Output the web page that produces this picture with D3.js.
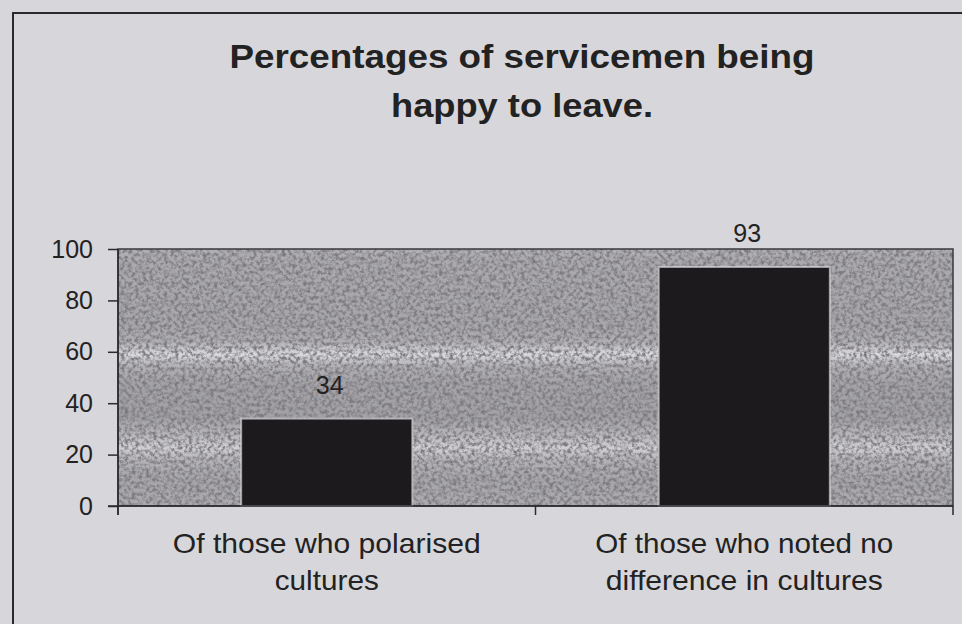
<!DOCTYPE html>
<html>
<head>
<meta charset="utf-8">
<script src="https://cdn.jsdelivr.net/npm/d3@7"></script>
<style>
  html, body { margin: 0; padding: 0; background: #d7d6db; }
  svg { display: block; }
  text { font-family: "Liberation Sans", Arial, sans-serif; fill: #222; }
</style>
</head>
<body>
<svg id="chart" width="962" height="624"></svg>
<script>
// ---- data ----
const titleLines = ["Percentages of servicemen being", "happy to leave."];
const categories = ["Of those who polarised cultures", "Of those who noted no difference in cultures"];
const categoryLines = [["Of those who polarised", "cultures"], ["Of those who noted no", "difference in cultures"]];
const values = [34, 93];
const yTicks = [0, 20, 40, 60, 80, 100];

// ---- layout ----
const W = 962, H = 624;
const plot = { left: 118, right: 953, top: 249, bottom: 506 };
const titleWidths = [585, 262];
const catWidths = [[308, 104], [298, 277]];

const svg = d3.select("#chart");
const defs = svg.append("defs");

// background texture gradient (light horizontal bands of the photographed plot area)
const grad = defs.append("linearGradient").attr("id", "bandGrad")
  .attr("x1", 0).attr("y1", 0).attr("x2", 0).attr("y2", 1);
[
  [0.00, "#b2b1b5"], [0.05, "#aaa9ad"], [0.30, "#a7a6aa"], [0.36, "#afaeb2"],
  [0.41, "#dadade"], [0.455, "#b2b1b5"], [0.52, "#a4a3a7"], [0.66, "#a2a1a5"],
  [0.73, "#bab9bd"], [0.775, "#d0cfd3"], [0.82, "#b4b3b7"], [0.90, "#a6a5a9"],
  [1.00, "#acabaf"]
].forEach(([o, c]) => grad.append("stop").attr("offset", o).attr("stop-color", c));

// grain filter
const f = defs.append("filter").attr("id", "grain")
  .attr("x", 0).attr("y", 0).attr("width", 1).attr("height", 1);
f.append("feTurbulence").attr("type", "fractalNoise").attr("baseFrequency", 0.28)
  .attr("numOctaves", 3).attr("seed", 7).attr("result", "t");
f.append("feColorMatrix").attr("in", "t").attr("type", "matrix")
  .attr("values", "0 0 0 0 0.20  0 0 0 0 0.19  0 0 0 0 0.21  2.8 0 0 0 -1.1")
  .attr("result", "n");
f.append("feComposite").attr("in", "n").attr("in2", "SourceGraphic").attr("operator", "in");

// outer frame (extends beyond the window like the photo)
svg.append("rect").attr("x", 13).attr("y", 13).attr("width", W + 20).attr("height", H + 20)
  .attr("fill", "none").attr("stroke", "#2a2a2c").attr("stroke-width", 2);

// title
titleLines.forEach((l, i) => svg.append("text").attr("text-anchor", "middle")
  .attr("font-size", 34).attr("font-weight", "bold")
  .attr("x", 522).attr("y", 68 + i * 49)
  .attr("textLength", titleWidths[i]).attr("lengthAdjust", "spacingAndGlyphs")
  .text(l));

// scales
const x = d3.scaleBand().domain(categories).range([plot.left, plot.right]).paddingInner(0.59).paddingOuter(0.295);
const y = d3.scaleLinear().domain([0, 100]).range([plot.bottom, plot.top]);

// plot area
svg.append("rect").attr("x", plot.left).attr("y", plot.top)
  .attr("width", plot.right - plot.left).attr("height", plot.bottom - plot.top)
  .attr("fill", "url(#bandGrad)");
svg.append("rect").attr("x", plot.left).attr("y", plot.top)
  .attr("width", plot.right - plot.left).attr("height", plot.bottom - plot.top)
  .attr("fill", "#000").attr("filter", "url(#grain)");
svg.append("rect").attr("x", plot.left).attr("y", plot.top)
  .attr("width", plot.right - plot.left).attr("height", plot.bottom - plot.top)
  .attr("fill", "none").attr("stroke", "#3a3a3c").attr("stroke-width", 1.5);

// bars
svg.append("g").selectAll("rect").data(values).join("rect")
  .attr("x", (d, i) => x(categories[i]))
  .attr("y", d => y(d))
  .attr("width", x.bandwidth())
  .attr("height", d => y(0) - y(d))
  .attr("fill", "#1c1a1c")
  .attr("stroke", "#d4d4d8").attr("stroke-opacity", 0.7).attr("stroke-width", 2);

// value labels
svg.append("g").selectAll("text").data(values).join("text")
  .attr("x", (d, i) => x(categories[i]) + x.bandwidth() / 2 + 3)
  .attr("y", d => y(d) - 25)
  .attr("text-anchor", "middle").attr("font-size", 25)
  .text(d => d);

// y axis
const yAxis = svg.append("g").attr("transform", `translate(${plot.left},0)`)
  .call(d3.axisLeft(y).tickValues(yTicks).tickSize(10).tickPadding(15));
yAxis.select(".domain").attr("stroke", "#2a2a2c").attr("stroke-width", 1.5)
  .attr("d", `M0,${plot.top}V${plot.bottom + 9}`);
yAxis.selectAll(".tick line").attr("stroke", "#2a2a2c").attr("stroke-width", 1.5);
yAxis.selectAll(".tick text").attr("font-size", 25).attr("fill", "#222")
  .attr("font-family", '"Liberation Sans", Arial, sans-serif');

// x axis line with category boundary ticks
const xg = svg.append("g");
xg.append("line").attr("x1", plot.left - 10).attr("x2", plot.right)
  .attr("y1", plot.bottom).attr("y2", plot.bottom)
  .attr("stroke", "#2a2a2c").attr("stroke-width", 1.5);
const boundaries = [plot.left].concat(categories.map(c => x(c) + x.bandwidth() + x.step() * x.paddingInner() / 2));
xg.selectAll("line.tk").data(boundaries).join("line").attr("class", "tk")
  .attr("x1", d => d).attr("x2", d => d)
  .attr("y1", plot.bottom).attr("y2", plot.bottom + 9)
  .attr("stroke", "#2a2a2c").attr("stroke-width", 1.5);

// category labels
categoryLines.forEach((lines, i) => {
  const cx = x(categories[i]) + x.bandwidth() / 2;
  lines.forEach((l, j) => svg.append("text").attr("text-anchor", "middle").attr("font-size", 28)
    .attr("x", cx).attr("y", 553 + j * 37)
    .attr("textLength", catWidths[i][j]).attr("lengthAdjust", "spacingAndGlyphs")
    .text(l));
});
</script>
</body>
</html>
